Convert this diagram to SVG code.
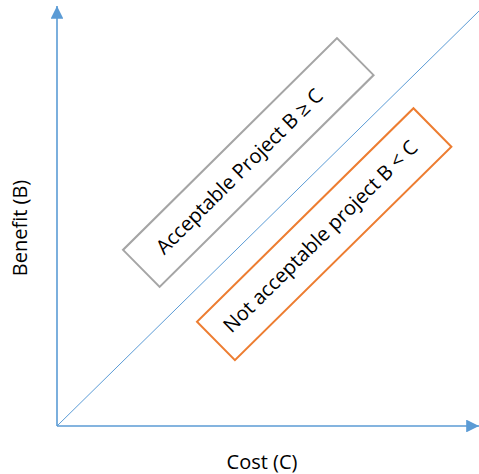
<svg xmlns="http://www.w3.org/2000/svg" width="479" height="474" viewBox="0 0 479 474">
<style>
.axis{stroke:#5B9BD5;stroke-width:1.6;fill:none}
.diag{stroke:#5B9BD5;stroke-width:1;fill:none}
.lbl{font-family:"Open Sans","Liberation Sans",sans-serif;font-size:20px;fill:#000}
.box{fill:#fff;stroke-width:2}
</style>
<defs>
<marker id="ah" viewBox="0 0 10 10" refX="10" refY="5" markerWidth="8" markerHeight="8" markerUnits="strokeWidth" orient="auto">
<path d="M0,0 L10,5 L0,10 z" fill="#5B9BD5"/>
</marker>
</defs>
<rect width="479" height="474" fill="#fff"/>
<g id="connectors">
<line class="axis" x1="57" y1="426" x2="57" y2="6" marker-end="url(#ah)"/>
<line class="axis" x1="57" y1="426" x2="479" y2="426" marker-end="url(#ah)"/>
<line class="diag" x1="57" y1="426" x2="479" y2="11"/>
</g>
<g id="accept">
<rect class="box" stroke="#A5A5A5" x="-150.5" y="-26" width="301" height="52" transform="translate(248.3,162.5) rotate(-44.7)"/>
<text class="lbl" text-anchor="middle" dominant-baseline="central" transform="translate(239,171) rotate(-44.7)">Acceptable Project B ≥ C</text>
</g>
<g id="notaccept">
<rect class="box" stroke="#ED7D31" x="-152" y="-27" width="304" height="54" transform="translate(324.2,234.2) rotate(-44.6)"/>
<text class="lbl" text-anchor="middle" dominant-baseline="central" transform="translate(320,236) rotate(-44.6)">Not acceptable project B &lt; C</text>
</g>
<g id="xlabel">
<text class="lbl" text-anchor="middle" x="262" y="469">Cost (C)</text>
</g>
<g id="ylabel">
<text class="lbl" text-anchor="middle" transform="translate(27,228) rotate(-90)">Benefit (B)</text>
</g>
</svg>
